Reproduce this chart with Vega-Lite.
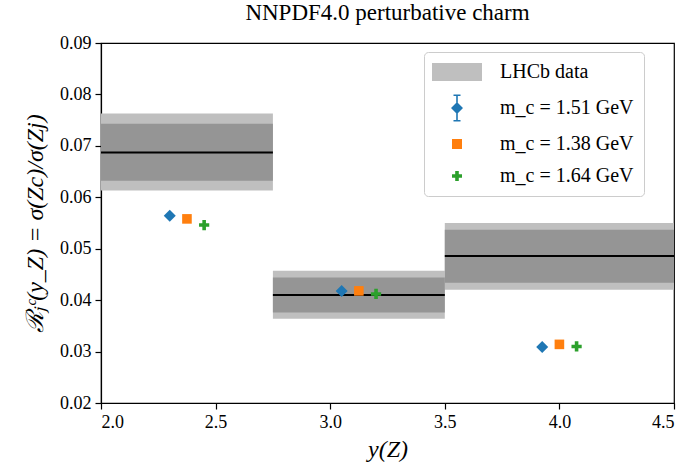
{
  "$schema": "https://vega.github.io/schema/vega-lite/v6.json",
  "autosize": "none",
  "width": 573,
  "height": 360,
  "padding": {"left": 101, "top": 43, "right": 15, "bottom": 67},
  "background": "white",
  "title": {"text": "NNPDF4.0 perturbative charm", "font": "Liberation Serif", "fontSize": 23, "fontWeight": "normal", "color": "black", "offset": 9},
  "config": {
    "view": {"stroke": "black", "strokeWidth": 1.2}
  },
  "datasets": {
    "bins": [
      {"x1": 2.0, "x2": 2.75, "lo_o": 0.0613, "hi_o": 0.0763, "lo_i": 0.0632, "hi_i": 0.0743, "c": 0.0687},
      {"x1": 2.75, "x2": 3.5, "lo_o": 0.0364, "hi_o": 0.0457, "lo_i": 0.0376, "hi_i": 0.0444, "c": 0.0410},
      {"x1": 3.5, "x2": 4.5, "lo_o": 0.0420, "hi_o": 0.0550, "lo_i": 0.0434, "hi_i": 0.0537, "c": 0.0486}
    ],
    "pts": [
      {"series": "m_c = 1.51 GeV", "x": 2.3, "y": 0.0564},
      {"series": "m_c = 1.38 GeV", "x": 2.375, "y": 0.0558},
      {"series": "m_c = 1.64 GeV", "x": 2.45, "y": 0.0546},
      {"series": "m_c = 1.51 GeV", "x": 3.05, "y": 0.0418},
      {"series": "m_c = 1.38 GeV", "x": 3.125, "y": 0.0418},
      {"series": "m_c = 1.64 GeV", "x": 3.2, "y": 0.0412},
      {"series": "m_c = 1.51 GeV", "x": 3.925, "y": 0.0309},
      {"series": "m_c = 1.38 GeV", "x": 4.0, "y": 0.0314},
      {"series": "m_c = 1.64 GeV", "x": 4.075, "y": 0.0310}
    ]
  },
  "encoding": {
    "x": {"type": "quantitative", "scale": {"domain": [2, 4.5], "nice": false, "zero": false},
      "axis": {"values": [2, 2.5, 3, 3.5, 4, 4.5], "format": ".1f", "title": "y(Z)", "titlePadding": 6, "grid": false,
        "labelFont": "serif", "labelFontSize": 18, "labelColor": "black", "tickColor": "black", "domainColor": "black", "tickSize": 6, "domainWidth": 1.2, "tickWidth": 1.2, "labelPadding": 4,
        "titleFont": "serif", "titleFontWeight": "normal", "titleColor": "black", "titleFontSize": 24, "titleFontStyle": "italic"}},
    "y": {"type": "quantitative", "scale": {"domain": [0.02, 0.09], "nice": false, "zero": false},
      "axis": {"values": [0.02, 0.03, 0.04, 0.05, 0.06, 0.07, 0.08, 0.09], "format": ".2f", "title": "ℛⱼᶜ(y_Z) = σ(Zc)/σ(Zj)", "titlePadding": 12, "grid": false,
        "labelFont": "serif", "labelFontSize": 18, "labelColor": "black", "tickColor": "black", "domainColor": "black", "tickSize": 6, "domainWidth": 1.2, "tickWidth": 1.2, "labelPadding": 4,
        "titleFont": "serif", "titleFontWeight": "normal", "titleColor": "black", "titleFontSize": 24, "titleFontStyle": "italic"}}
  },
  "layer": [
    {
      "data": {"name": "bins"},
      "mark": {"type": "rect", "color": "#bfbfbf"},
      "encoding": {
        "x": {"field": "x1"},
        "x2": {"field": "x2"},
        "y": {"field": "lo_o"},
        "y2": {"field": "hi_o"}
      }
    },
    {
      "data": {"name": "bins"},
      "mark": {"type": "rect", "color": "#959595"},
      "encoding": {
        "x": {"field": "x1"},
        "x2": {"field": "x2"},
        "y": {"field": "lo_i"},
        "y2": {"field": "hi_i"}
      }
    },
    {
      "data": {"name": "bins"},
      "mark": {"type": "rule", "color": "black", "strokeWidth": 2},
      "encoding": {
        "x": {"field": "x1"},
        "x2": {"field": "x2"},
        "y": {"field": "c"}
      }
    },
    {
      "data": {"name": "pts"},
      "mark": {"type": "point", "filled": true, "opacity": 1, "size": 144, "strokeWidth": 0},
      "encoding": {
        "x": {"field": "x"},
        "y": {"field": "y"},
        "color": {"field": "series", "type": "nominal", "scale": {"domain": ["m_c = 1.51 GeV", "m_c = 1.38 GeV", "m_c = 1.64 GeV"], "range": ["#1f77b4", "#ff7f0e", "#2ca02c"]}, "legend": null},
        "shape": {"field": "series", "type": "nominal", "scale": {"domain": ["m_c = 1.51 GeV", "m_c = 1.38 GeV", "m_c = 1.64 GeV"], "range": ["M0,-1L1,0L0,1L-1,0Z", "M-0.8,-0.8H0.8V0.8H-0.8Z", "M-0.3,-0.85H0.3V-0.3H0.85V0.3H0.3V0.85H-0.3V0.3H-0.85V-0.3H-0.3Z"]}, "legend": null}
      }
    },
    {
      "data": {"name": "pts"},
      "transform": [{"filter": "false"}],
      "mark": {"type": "point", "filled": true, "opacity": 1, "strokeWidth": 0},
      "encoding": {
        "x": {"field": "x"},
        "y": {"field": "y"},
        "color": {"field": "series", "type": "nominal", "scale": {"domain": ["LHCb data", "m_c = 1.51 GeV", "m_c = 1.38 GeV", "m_c = 1.64 GeV"], "range": ["#bfbfbf", "#1f77b4", "#ff7f0e", "#2ca02c"]},
          "legend": {"title": null, "orient": "none", "legendX": 323, "legendY": 9, "strokeColor": "#cccccc", "fillColor": "white", "cornerRadius": 4, "padding": 10, "labelFont": "Liberation Serif", "labelFontSize": 20, "labelColor": "black", "symbolSize": 400, "symbolStrokeWidth": 0, "symbolOffset": 13, "labelOffset": 33, "rowPadding": 12, "labelLimit": 300}},
        "shape": {"field": "series", "type": "nominal", "scale": {"domain": ["LHCb data", "m_c = 1.51 GeV", "m_c = 1.38 GeV", "m_c = 1.64 GeV"], "range": ["M-2.5,-0.9H2.5V0.9H-2.5Z", "M0,-0.6L0.6,0L0,0.6L-0.6,0Z M-0.08,-1.35H0.08V1.35H-0.08Z M-0.35,-1.35H0.35V-1.2H-0.35Z M-0.35,1.2H0.35V1.35H-0.35Z", "M-0.5,-0.5H0.5V0.5H-0.5Z", "M-0.18,-0.5H0.18V-0.18H0.5V0.18H0.18V0.5H-0.18V0.18H-0.5V-0.18H-0.18Z"]},
          "legend": {"title": null, "orient": "none", "legendX": 323, "legendY": 9}}
      }
    }
  ],
  "resolve": {"scale": {"color": "independent", "shape": "independent"}}
}
